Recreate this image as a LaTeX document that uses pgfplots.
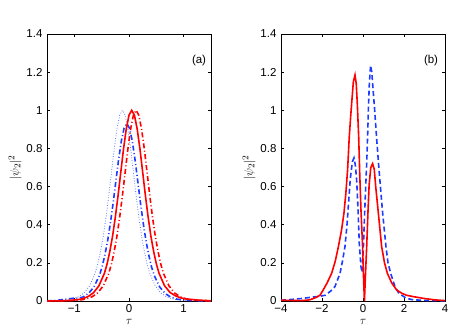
\documentclass[border=0pt]{standalone}
\usepackage{fontspec}
\setmainfont{Liberation Sans}
\usepackage{pgfplots}
\pgfplotsset{compat=1.18}
\definecolor{mred}{RGB}{255,0,0}
\definecolor{mblue}{RGB}{30,60,255}
\definecolor{lblue}{RGB}{90,120,255}
\begin{document}
\begin{tikzpicture}
\path[use as bounding box] (0pt,0pt) rectangle (469pt,335pt);
\pgfplotsset{every axis/.append style={
 scale only axis, width=164pt, height=267pt, anchor=south west,
 ymin=0, ymax=1.4, ytick={0,0.2,0.4,0.6,0.8,1,1.2,1.4},
 tick align=inside, major tick length=3pt,
 axis line style={line width=0.5pt},
 tick style={line width=0.5pt, black},
 tick label style={font=\fontsize{11.5}{13}\selectfont},
 yticklabel style={xshift=-1pt},
 /pgf/number format/assume math mode=true,
 label style={font=\fontsize{13}{15}\selectfont},
 xlabel={$\tau$}, ylabel={$|\psi_2|^2$},
 xlabel style={yshift=0pt},
 ylabel style={yshift=-2pt},
 }}
\begin{axis}[at={(47pt,34pt)}, xmin=-1.5, xmax=1.5, xtick={-1,0,1}, xticklabels={−1,0,1}]
\addplot[lblue, line width=0.8pt, dash pattern=on 0.8pt off 1.8pt] coordinates {
(-1.5,0.0003) (-1.32,0.0017) (-1.12,0.0063) (-1.02,0.012) (-0.92,0.023) (-0.82,0.043) (-0.72,0.080) (-0.62,0.145) (-0.57,0.195) (-0.52,0.261) (-0.47,0.341) (-0.42,0.440) (-0.37,0.553) (-0.32,0.676) (-0.27,0.798) (-0.22,0.902) (-0.17,0.974) (-0.12,1) (-0.07,0.974) (-0.02,0.902) (0.03,0.798) (0.08,0.676) (0.13,0.553) (0.18,0.440) (0.23,0.341) (0.28,0.261) (0.33,0.195) (0.38,0.145) (0.48,0.080) (0.58,0.043) (0.68,0.023) (0.78,0.012) (0.88,0.0063) (1.08,0.0017) (1.28,0.0005) (1.5,0.0001)};
\addplot[mblue, line width=1.6pt, dash pattern=on 5pt off 2.5pt on 1pt off 2.5pt] coordinates {
(-1.5,0.001) (-1.3,0.004) (-1.15,0.010) (-1.0,0.015) (-0.92,0.015) (-0.84,0.021) (-0.74,0.040) (-0.64,0.074) (-0.54,0.135) (-0.49,0.181) (-0.44,0.243) (-0.39,0.317) (-0.34,0.409) (-0.29,0.514) (-0.24,0.629) (-0.19,0.742) (-0.14,0.839) (-0.09,0.906) (-0.04,0.93) (0.01,0.906) (0.06,0.839) (0.11,0.742) (0.16,0.629) (0.21,0.514) (0.26,0.409) (0.31,0.317) (0.36,0.243) (0.41,0.181) (0.46,0.135) (0.56,0.074) (0.66,0.040) (0.76,0.021) (0.86,0.011) (0.96,0.006) (1.16,0.002) (1.5,0)};
\addplot[mred, line width=1.6pt, dash pattern=on 5pt off 2.5pt on 1pt off 2.5pt] coordinates {
(-1.5,0.0003) (-1.27,0.0005) (-1.07,0.0017) (-0.87,0.0063) (-0.77,0.012) (-0.67,0.023) (-0.57,0.043) (-0.47,0.080) (-0.37,0.145) (-0.32,0.195) (-0.27,0.261) (-0.22,0.341) (-0.17,0.440) (-0.12,0.553) (-0.07,0.676) (-0.02,0.798) (0.03,0.902) (0.08,0.974) (0.13,1) (0.18,0.974) (0.23,0.902) (0.28,0.798) (0.33,0.676) (0.38,0.553) (0.43,0.440) (0.48,0.341) (0.53,0.261) (0.58,0.195) (0.63,0.145) (0.73,0.080) (0.83,0.043) (0.93,0.023) (1.03,0.012) (1.13,0.0063) (1.33,0.0017) (1.5,0.0006)};
\addplot[mred, line width=1.6pt] coordinates {
(-1.5,0.0003) (-1.35,0.0005) (-1.15,0.0017) (-0.95,0.0063) (-0.85,0.012) (-0.75,0.023) (-0.65,0.043) (-0.55,0.080) (-0.45,0.145) (-0.40,0.195) (-0.35,0.261) (-0.30,0.341) (-0.25,0.440) (-0.20,0.553) (-0.15,0.676) (-0.10,0.798) (-0.05,0.902) (0,0.974) (0.05,1) (0.10,0.974) (0.15,0.902) (0.20,0.798) (0.25,0.676) (0.30,0.553) (0.35,0.440) (0.40,0.341) (0.45,0.261) (0.50,0.195) (0.55,0.145) (0.65,0.080) (0.75,0.045) (0.85,0.027) (0.95,0.016) (1.05,0.011) (1.25,0.005) (1.45,0.002) (1.5,0.0015)};
\node[font=\fontsize{11.5}{13}\selectfont] at (rel axis cs:0.927,0.899) {(a)};
\end{axis}
\begin{axis}[at={(281pt,34pt)}, xmin=-4, xmax=4, xtick={-4,-2,0,2,4}, xticklabels={−4,−2,0,2,4}]
\addplot[mblue, line width=1.6pt, dash pattern=on 5pt off 3pt] coordinates {
(-4,0.004) (-3.5,0.008) (-3,0.013) (-2.5,0.02) (-2.1,0.025) (-1.85,0.03) (-1.6,0.05) (-1.37,0.075) (-1.12,0.145) (-1.0,0.21) (-0.88,0.285) (-0.78,0.40) (-0.70,0.52) (-0.62,0.64) (-0.52,0.73) (-0.44,0.75) (-0.37,0.71) (-0.31,0.635) (-0.25,0.50) (-0.18,0.30) (-0.10,0.18) (-0.04,0.15) (0.02,0.285) (0.08,0.46) (0.14,0.62) (0.18,0.72) (0.23,0.88) (0.26,1.0) (0.31,1.14) (0.37,1.235) (0.43,1.20) (0.47,1.14) (0.57,1.0) (0.66,0.86) (0.78,0.69) (0.85,0.60) (0.96,0.46) (1.12,0.285) (1.22,0.20) (1.35,0.145) (1.56,0.075) (1.75,0.04) (1.89,0.03) (2.1,0.015) (2.4,0.007) (3,0.003) (4,0.001)};
\addplot[mred, line width=1.6pt] coordinates {
(-4,0.004) (-3.5,0.003) (-3,0.002) (-2.6,0.006) (-2.3,0.018) (-2.1,0.03) (-1.94,0.058) (-1.75,0.095) (-1.53,0.145) (-1.35,0.21) (-1.2,0.285) (-1.05,0.37) (-0.93,0.46) (-0.84,0.56) (-0.75,0.69) (-0.67,0.86) (-0.60,0.97) (-0.55,1.04) (-0.47,1.15) (-0.39,1.185) (-0.33,1.14) (-0.28,1.04) (-0.21,0.86) (-0.16,0.67) (-0.10,0.48) (-0.02,0.285) (0.03,0.11) (0.07,0.0) (0.11,0.11) (0.18,0.285) (0.24,0.46) (0.30,0.61) (0.38,0.70) (0.47,0.72) (0.55,0.69) (0.62,0.60) (0.75,0.46) (0.91,0.285) (1.05,0.20) (1.19,0.145) (1.4,0.095) (1.64,0.058) (1.9,0.04) (2.13,0.03) (2.5,0.022) (3,0.013) (3.5,0.006) (4,0.002)};
\node[font=\fontsize{11.5}{13}\selectfont] at (rel axis cs:0.915,0.899) {(b)};
\end{axis}
\end{tikzpicture}
\end{document}
